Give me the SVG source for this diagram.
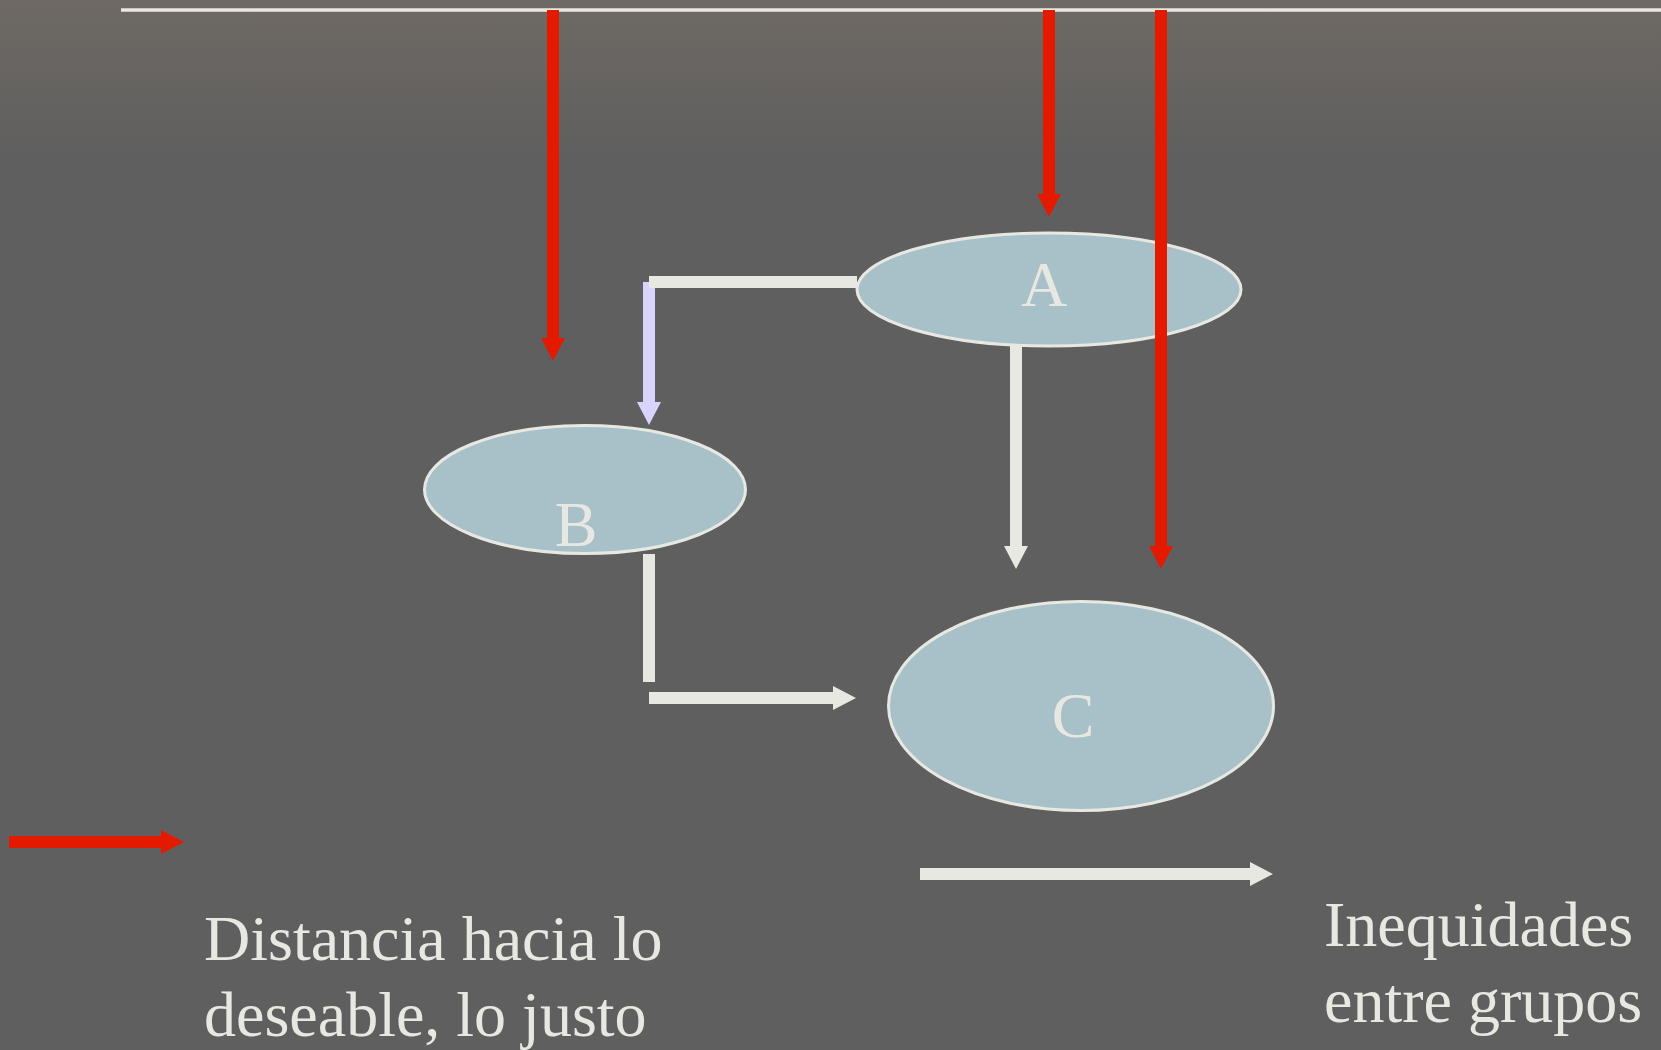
<svg xmlns="http://www.w3.org/2000/svg" width="1661" height="1050" viewBox="0 0 1661 1050">
<style>
.node{fill:#a8c0c8;stroke:#e8e8e3;stroke-width:3}
.lbl{font-family:"Liberation Serif","Times New Roman",serif;font-size:64px;fill:#e8e8e3}
.red{stroke:#e31a00;stroke-width:12;fill:none}
.wht{stroke:#e8e8e3;stroke-width:12;fill:none}
.lav{stroke:#d8d4fb;stroke-width:12;fill:none}
</style>
<defs>
<linearGradient id="bg" gradientUnits="userSpaceOnUse" x1="0" y1="0" x2="0" y2="160">
<stop offset="0" stop-color="#6e6964"/>
<stop offset="1" stop-color="#5f5f5f"/>
</linearGradient>
<marker id="mRed" viewBox="0 0 23 24" markerWidth="23" markerHeight="24" markerUnits="userSpaceOnUse" refX="0" refY="12" orient="auto"><path d="M0,0 L23,12 L0,24 z" fill="#e31a00"/></marker>
<marker id="mWht" viewBox="0 0 23 24" markerWidth="23" markerHeight="24" markerUnits="userSpaceOnUse" refX="0" refY="12" orient="auto"><path d="M0,0 L23,12 L0,24 z" fill="#e8e8e3"/></marker>
<marker id="mLav" viewBox="0 0 23 24" markerWidth="23" markerHeight="24" markerUnits="userSpaceOnUse" refX="0" refY="12" orient="auto"><path d="M0,0 L23,12 L0,24 z" fill="#d8d4fb"/></marker>
</defs>
<rect x="0" y="0" width="1661" height="1050" fill="url(#bg)"/>
<path d="M121,10 H1661" stroke="#e8e8e3" stroke-width="3.3"/>
<g id="nodeA"><ellipse class="node" cx="1049" cy="289.5" rx="192" ry="56.5"/><text class="lbl" x="1044" y="306" text-anchor="middle">A</text></g>
<g id="nodeB"><ellipse class="node" cx="585" cy="489.5" rx="160.5" ry="64"/><text class="lbl" x="576" y="546" text-anchor="middle">B</text></g>
<g id="nodeC"><ellipse class="node" cx="1081" cy="706" rx="192.5" ry="104.5"/><text class="lbl" x="1073" y="737" text-anchor="middle">C</text></g>
<g id="connectors">
<path class="red" d="M553,10 V338" marker-end="url(#mRed)"/>
<path class="red" d="M1049,10 V194" marker-end="url(#mRed)"/>
<path class="red" d="M1161,10 V546" marker-end="url(#mRed)"/>
<path class="lav" d="M649,282 V402" marker-end="url(#mLav)"/>
<path class="wht" d="M649,282 H857"/>
<path class="wht" d="M1016,346 V546" marker-end="url(#mWht)"/>
<path class="wht" d="M649,554 V682"/>
<path class="wht" d="M649,698 H833" marker-end="url(#mWht)"/>
<path class="red" d="M9,842 H161" marker-end="url(#mRed)"/>
<path class="wht" d="M920,874 H1250" marker-end="url(#mWht)"/>
</g>
<g id="legend">
<text class="lbl" x="204" y="960">Distancia hacia lo</text>
<text class="lbl" x="204" y="1036">deseable, lo justo</text>
<text class="lbl" x="1324" y="946">Inequidades</text>
<text class="lbl" x="1324" y="1022">entre grupos</text>
</g>
</svg>
